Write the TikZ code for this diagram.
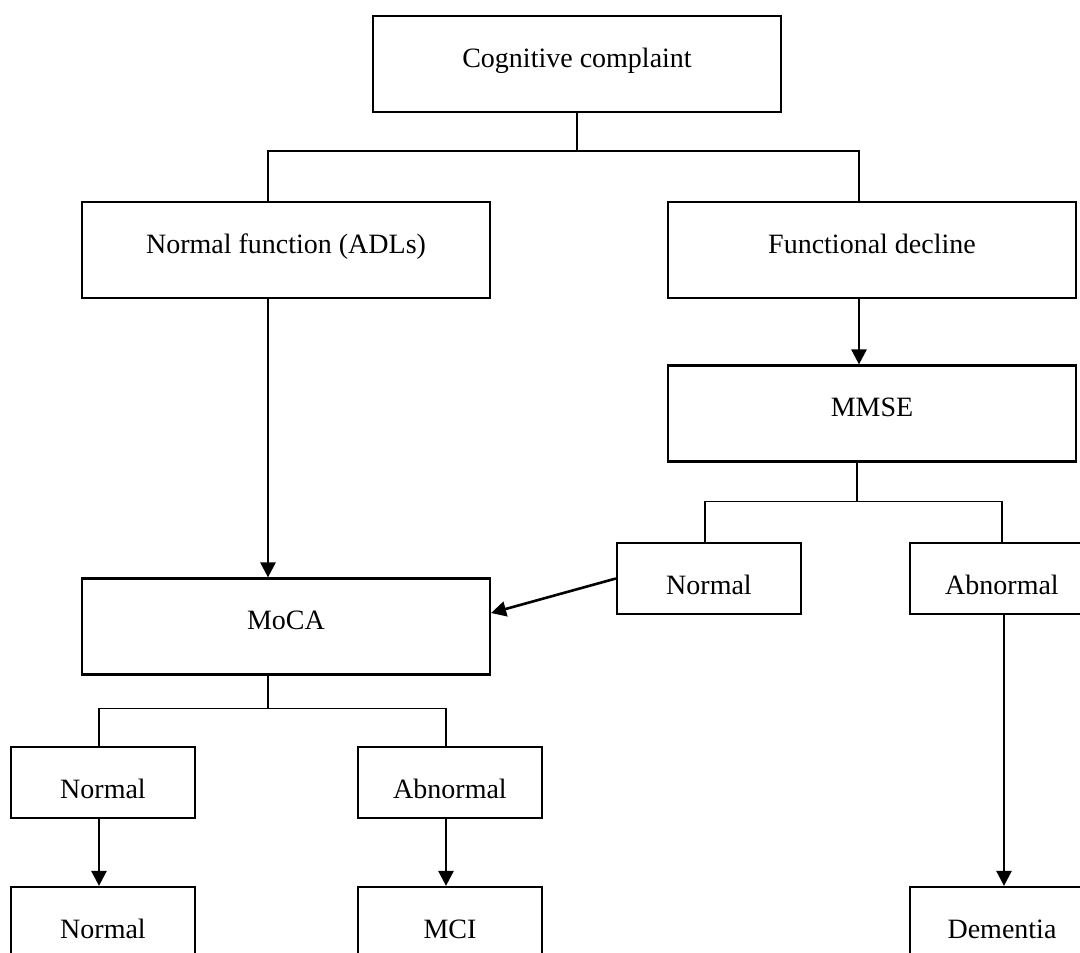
\documentclass[tikz,border=0pt]{standalone}
\usepackage{fontspec}
\setmainfont{Liberation Serif}
\usetikzlibrary{arrows.meta}
\begin{document}
\begin{tikzpicture}[x=1pt,y=-1pt,
  bigbox/.style={draw, line width=2.2pt, rectangle, inner sep=0pt,
    minimum width=408pt, minimum height=96pt,
    font=\fontsize{28pt}{34pt}\selectfont, text height=10pt, text depth=3.4pt},
  smallbox/.style={draw, line width=2.2pt, rectangle, inner sep=0pt,
    minimum width=184pt, minimum height=71pt,
    font=\fontsize{28pt}{34pt}\selectfont, text height=33pt, text depth=1.4pt},
  conn/.style={draw, line width=1.7pt},
  arr/.style={draw, line width=2.6pt, -{Triangle[width=15pt,length=15pt]}}]
\clip (0,0) rectangle (1080,953);
\fill[white] (0,0) rectangle (1080,953);

\node[bigbox] (cc) at (577,64) {Cognitive complaint};
\node[bigbox] (nf) at (286,250) {Normal function (ADLs)};
\node[bigbox] (fd) at (872,250) {Functional decline};
\node[bigbox] (mmse) at (872,413.5) {MMSE};
\node[smallbox] (nm) at (709,578.5) {Normal};
\node[smallbox] (am) at (1002,578.5) {Abnormal};
\node[bigbox] (moca) at (286,626.5) {MoCA};
\node[smallbox] (n2) at (103,782.5) {Normal};
\node[smallbox] (a2) at (450,782.5) {Abnormal};
\node[smallbox] (n3) at (103,922.5) {Normal};
\node[smallbox] (mci) at (450,922.5) {MCI};
\node[smallbox] (dem) at (1002,922.5) {Dementia};

% tree branches
\draw[conn] (cc.south) -- ++(0,38) coordinate (j1);
\draw[conn] ([xshift=-18pt]nf.north) |- (j1) -| ([xshift=-13pt]fd.north);

\draw[conn] ([xshift=-15pt]mmse.south) -- ++(0,39) coordinate (j2);
\draw[conn] ([xshift=-4pt]nm.north) |- (j2) -| (am.north);

\draw[conn] ([xshift=-18pt]moca.south) -- ++(0,33) coordinate (j3);
\draw[conn] ([xshift=-4pt]n2.north) |- (j3) -| ([xshift=-4pt]a2.north);

% arrows
\draw[arr] ([xshift=-18pt]nf.south) -- ([xshift=-18pt]moca.north);
\draw[arr] ([xshift=-13pt]fd.south) -- ([xshift=-13pt]mmse.north);
\draw[arr] (nm.west) -- ([yshift=13.5pt]moca.east);
\draw[arr] ([xshift=2pt]am.south) -- ([xshift=2pt]dem.north);
\draw[arr] ([xshift=-4pt]n2.south) -- ([xshift=-4pt]n3.north);
\draw[arr] ([xshift=-4pt]a2.south) -- ([xshift=-4pt]mci.north);
\end{tikzpicture}
\end{document}
